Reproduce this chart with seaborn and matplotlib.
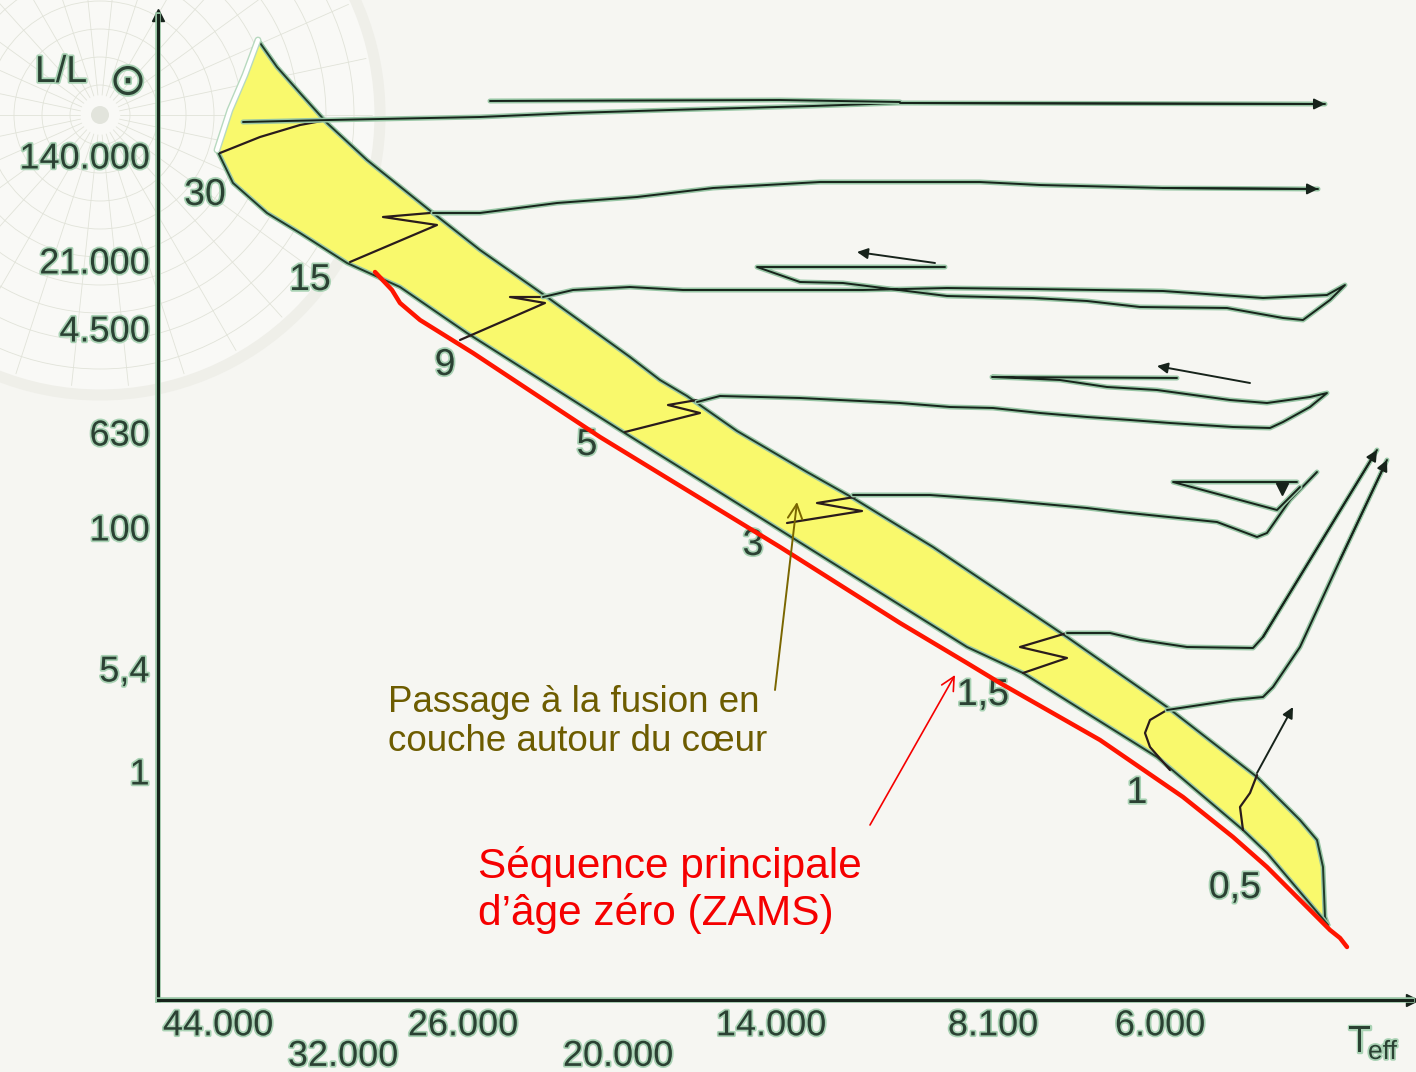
import matplotlib
matplotlib.use("Agg")
import matplotlib.pyplot as plt
import matplotlib.patheffects as pe
from matplotlib.patches import Circle
import numpy as np
import seaborn as sns

sns.set_theme(style="white")
plt.rcParams["font.family"] = ["Liberation Sans", "DejaVu Sans"]

# ---------------------------------------------------------------
# Diagram values (units = px from axis origin)
# ---------------------------------------------------------------
teff_major_pos = [60, 305, 613, 835, 1002]
teff_major_lab = ["44.000", "26.000", "14.000", "8.100", "6.000"]
teff_minor_pos = [185, 460]
teff_minor_lab = ["32.000", "20.000"]
lum_pos = [845, 740, 672, 568, 473, 332, 229, 108]
lum_lab = ["140.000", "21.000", "4.500", "630", "100", "5,4", "1", ""]

# main sequence band (yellow)
band_top_x = [100, 119, 142, 169, 209, 275, 322, 389, 472, 502, 529, 579, 649, 695, 775, 909, 1009, 1099, 1142, 1159, 1165, 1167, 1170]
band_top_y = [960, 933, 907, 877, 840, 787, 750, 703, 643, 620, 604, 569, 528, 502, 453, 363, 293, 223, 180, 160, 133, 83, 75]
band_bot_x = [1170, 1109, 1085, 999, 935, 865, 809, 622, 462, 309, 242, 189, 142, 109, 75, 59]
band_bot_y = [75, 147, 170, 243, 283, 327, 353, 470, 570, 667, 713, 737, 767, 787, 817, 850]
band_left_x = [59, 72, 87, 100]
band_left_y = [850, 890, 925, 960]

# zero age main sequence (red)
zams_x = [217, 234, 242, 262, 315, 442, 622, 742, 809, 842, 942, 1025, 1075, 1109, 1142, 1172, 1182, 1189]
zams_y = [728, 710, 697, 680, 647, 563, 453, 377, 337, 317, 260, 203, 163, 133, 100, 70, 62, 53]

# evolutionary tracks
trk30_x = [85, 172, 322, 415, 512, 655, 742, 1167]
trk30_y = [878, 880, 883, 887, 890, 894, 897, 896]
trk30b_x = [332, 622, 742]
trk30b_y = [899, 900, 898]
trk15_x = [275, 322, 399, 479, 555, 662, 822, 882, 1005, 1160]
trk15_y = [787, 787, 797, 803, 812, 818, 818, 815, 812, 811]
trk9_x = [385, 415, 472, 525, 705, 789, 872, 1005, 1105, 1169, 1187,
          1172, 1145, 1125, 1069, 982, 929, 875, 789, 685, 642, 599, 787]
trk9_y = [703, 710, 713, 710, 710, 712, 711, 709, 702, 705, 715,
          700, 680, 682, 692, 693, 699, 702, 704, 717, 718, 733, 733]
trk9_arrow = [(777, 737), (699, 748)]
trk5_x = [539, 562, 642, 742, 792, 835, 882, 929, 972, 1012, 1075, 1112, 1125, 1152, 1169,
          1152, 1109, 1072, 999, 949, 902, 859, 834, 1019]
trk5_y = [598, 604, 602, 597, 593, 592, 587, 583, 580, 577, 573, 572, 578, 593, 607,
          603, 597, 600, 610, 613, 620, 622, 623, 622]
trk5_arrow = [(1092, 617), (999, 634)]
trk3_x = [695, 772, 842, 929, 962, 1059, 1099, 1109, 1132, 1159]
trk3_y = [505, 505, 500, 492, 488, 478, 463, 467, 500, 528]
trk3b_x = [1142, 1119, 1015, 1139]
trk3b_y = [513, 490, 518, 518]
trk15m_x = [909, 952, 982, 1029, 1095, 1105, 1219]
trk15m_y = [367, 367, 360, 353, 352, 363, 550]
trk1_x = [1009, 1075, 1105, 1115, 1142, 1182, 1229]
trk1_y = [290, 300, 303, 313, 353, 440, 540]
trk05_arrow = [(1099, 227), (1135, 293)]

# core exhaustion lines inside the band
tams = {
    "30": ([62, 102, 142, 169], [847, 863, 875, 880]),
    "15": ([192, 279, 225, 272], [738, 775, 783, 787]),
    "9": ([302, 387, 352, 385], [660, 697, 703, 703]),
    "5": ([467, 542, 510, 539], [568, 587, 595, 600]),
    "3": ([629, 704, 659, 697], [477, 489, 497, 503]),
    "1,5": ([865, 909, 862, 909], [327, 342, 353, 367]),
    "1": ([1012, 992, 987, 992, 1009], [230, 253, 267, 280, 290]),
    "0,5": ([1085, 1082, 1092, 1099], [170, 193, 207, 225]),
}

mass_lab = ["30", "15", "9", "5", "3", "1,5", "1", "0,5"]
mass_x = [47, 152, 287, 429, 595, 825, 979, 1077]
mass_y = [805, 720, 635, 555, 455, 305, 207, 112]

# annotation arrows (tail, head)
shell_arrow = [(617, 310), (639, 498)]
zams_arrow = [(712, 175), (797, 325)]

# ---------------------------------------------------------------
# Figure
# ---------------------------------------------------------------
BG = "#f6f6f2"
INK = "#17231b"
HALO = "#98c6a5"
LABEL = "#2b4133"

fig = plt.figure(figsize=(14.16, 10.72), dpi=100, facecolor=BG)

# decorative background (pixel space)
bg = fig.add_axes([0, 0, 1, 1], zorder=0)
bg.set_xlim(0, 1416)
bg.set_ylim(1072, 0)
bg.axis("off")
bg.add_patch(Circle((100, 115), 280, facecolor="#f9f9f6", edgecolor="#efefe9", lw=8))
for r in np.arange(30, 275, 28):
    bg.add_patch(Circle((100, 115), r, fill=False, edgecolor="#e1e3d9", lw=0.6))
for ang in np.arange(0, 360, 12):
    t = np.deg2rad(ang)
    bg.plot([100 + 20 * np.cos(t), 100 + 272 * np.cos(t)],
            [115 + 20 * np.sin(t), 115 + 272 * np.sin(t)], color="#e1e3d9", lw=0.6)
bg.add_patch(Circle((100, 115), 9, facecolor="#e2e4dc", edgecolor="none"))

ax = fig.add_axes([158 / 1416, 72 / 1072, 1254 / 1416, 985 / 1072], zorder=1)
ax.patch.set_alpha(0)
ax.set_xlim(0, 1254)
ax.set_ylim(0, 985)
for s in ["top", "right"]:
    ax.spines[s].set_visible(False)
for s in ["left", "bottom"]:
    ax.spines[s].set_color(INK)
    ax.spines[s].set_linewidth(2.2)
    ax.spines[s].set_path_effects([pe.Stroke(linewidth=4, foreground=HALO), pe.Normal()])
ax.plot([0], [985], marker="^", color=INK, ms=8, clip_on=False)
ax.plot([1254], [0], marker=">", color=INK, ms=8, clip_on=False)

halo = [pe.Stroke(linewidth=2.5, foreground="#a9d2b4"), pe.Normal()]

ax.set_xticks(teff_major_pos)
ax.set_xticklabels(teff_major_lab)
ax.set_xticks(teff_minor_pos, minor=True)
ax.set_xticklabels(teff_minor_lab, minor=True)
ax.set_yticks(lum_pos)
ax.set_yticklabels(lum_lab)
ax.tick_params(axis="x", which="both", direction="in", length=11, width=1.5, color=INK,
               labelsize=26, labelcolor=LABEL)
ax.tick_params(axis="x", which="major", pad=6)
ax.tick_params(axis="x", which="minor", pad=28)
ax.tick_params(axis="y", direction="in", length=9, width=2, color=INK,
               labelsize=26, labelcolor=LABEL, pad=6)
for lab in ax.get_xticklabels() + ax.get_xticklabels(minor=True) + ax.get_yticklabels():
    lab.set_path_effects(halo)

# yellow band
ax.fill(band_top_x + band_bot_x, band_top_y + band_bot_y, color="#f9f96c", zorder=1, lw=0)
edge = [pe.Stroke(linewidth=3.5, foreground=HALO), pe.Normal()]
for xs, ys in [(band_top_x, band_top_y), (band_bot_x, band_bot_y)]:
    sns.lineplot(x=xs, y=ys, sort=False, estimator=None, ax=ax, color="#203a29", lw=1.4,
                 path_effects=edge, zorder=2)
ax.plot(band_left_x, band_left_y, color="white", lw=3, zorder=2,
        path_effects=[pe.Stroke(linewidth=5, foreground="#b7d9bf"), pe.Normal()])

# core exhaustion / shell ignition lines
for key, (xs, ys) in tams.items():
    sns.lineplot(x=xs, y=ys, sort=False, estimator=None, ax=ax, color="#2a1c1c", lw=1.6, zorder=3)

# tracks
tracks = [(trk30_x, trk30_y), (trk30b_x, trk30b_y), (trk15_x, trk15_y), (trk9_x, trk9_y),
          (trk5_x, trk5_y), (trk3_x, trk3_y), (trk3b_x, trk3b_y), (trk15m_x, trk15m_y),
          (trk1_x, trk1_y)]
trk_fx = [pe.Stroke(linewidth=3.6, foreground=HALO), pe.Normal()]
for xs, ys in tracks:
    sns.lineplot(x=xs, y=ys, sort=False, estimator=None, ax=ax, color=INK, lw=1.4,
                 path_effects=trk_fx, zorder=4)

arrows = [((trk30_x[-2], trk30_y[-2]), (trk30_x[-1], trk30_y[-1])),
          ((trk15_x[-2], trk15_y[-2]), (trk15_x[-1], trk15_y[-1])),
          ((trk15m_x[-2], trk15m_y[-2]), (trk15m_x[-1], trk15m_y[-1])),
          ((trk1_x[-2], trk1_y[-2]), (trk1_x[-1], trk1_y[-1])),
          tuple(trk9_arrow), tuple(trk5_arrow), tuple(trk05_arrow)]
for start, end in arrows:
    ax.annotate("", xy=end, xytext=start, zorder=5,
                arrowprops=dict(arrowstyle="-|>", color=INK, lw=1.4, mutation_scale=16,
                                shrinkA=0, shrinkB=0))
ax.plot([1124], [511], marker="v", color=INK, ms=8, zorder=5)

# ZAMS
sns.lineplot(x=zams_x, y=zams_y, sort=False, estimator=None, ax=ax, color="#ff1500", lw=3.2, zorder=6)

# mass labels
for lab, x, y in zip(mass_lab, mass_x, mass_y):
    ax.text(x, y, lab, fontsize=27, color=LABEL, ha="center", va="center",
            path_effects=halo, zorder=5)

# axis titles
ax.text(-123, 928, "L/L", fontsize=27, color=LABEL, ha="left", va="center",
        path_effects=halo, clip_on=False)
ax.text(-30, 918, "\u2299", fontsize=32, color=LABEL, ha="center", va="center",
        family="DejaVu Sans", path_effects=halo, clip_on=False)
ax.text(1190, -42, "T", fontsize=27, color=LABEL, ha="left", va="center",
        path_effects=halo, clip_on=False)
ax.text(1210, -52, "eff", fontsize=19, color=LABEL, ha="left", va="center",
        path_effects=halo, clip_on=False)

# annotations
ax.text(230, 278, "Passage à la fusion en\ncouche autour du cœur", fontsize=26.5,
        color="#6d5c00", ha="left", va="center", linespacing=1.15, zorder=7)
ax.annotate("", xy=shell_arrow[1], xytext=shell_arrow[0], zorder=7,
            arrowprops=dict(arrowstyle="->", color="#7a6600", lw=1.4, mutation_scale=26,
                            shrinkA=0, shrinkB=0))
ax.text(320, 110, "Séquence principale\nd’âge zéro (ZAMS)", fontsize=30.5,
        color="#f50000", ha="left", va="center", linespacing=1.2, zorder=7)
ax.annotate("", xy=zams_arrow[1], xytext=zams_arrow[0], zorder=7,
            arrowprops=dict(arrowstyle="->", color="#f50000", lw=1.2, mutation_scale=24,
                            shrinkA=0, shrinkB=0))

fig.savefig("out.png", dpi=100, facecolor=BG)
